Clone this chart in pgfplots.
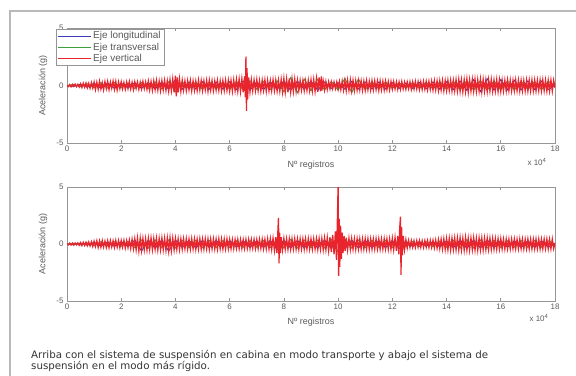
\documentclass[border=0pt]{standalone}
\usepackage{pgfplots}
\usepackage{pgfplotstable}
\pgfplotsset{compat=1.18}
\usepackage{fontspec}
\setmainfont{Liberation Sans}
\newfontfamily\capfont{DejaVu Sans}
\definecolor{mred}{RGB}{234,36,44}
\definecolor{mgreen}{RGB}{60,160,60}
\definecolor{mblue}{RGB}{60,60,180}
\definecolor{axgray}{RGB}{150,150,150}
\definecolor{txtgray}{RGB}{90,90,90}
\pgfplotstableread{
x y
0 0.02
0.05 -0.1
0.1 0.08
0.15 -0.12
0.2 0.1
0.25 -0.08
0.3 0.12
0.35 -0.11
0.4 0.1
0.45 -0.13
0.5 0.15
0.55 -0.18
0.6 0.2
0.65 -0.15
0.7 0.22
0.75 -0.2
0.8 0.18
0.85 -0.24
0.9 0.25
0.95 -0.22
1.0 0.3
1.05 -0.35
1.1 0.28
1.15 -0.32
1.2 0.36
1.25 -0.3
1.3 0.25
1.35 -0.38
1.4 0.33
1.45 -0.28
1.5 0.35
1.55 -0.36
1.6 0.3
1.65 -0.25
1.7 0.38
1.75 -0.33
1.8 0.35
1.85 -0.4
1.9 0.3
1.95 -0.28
2.0 0.32
2.05 -0.3
2.1 0.26
2.15 -0.33
2.2 0.3
2.25 -0.27
2.3 0.34
2.35 -0.3
2.4 0.28
2.45 -0.35
2.5 0.32
2.55 -0.26
2.6 0.3
2.65 -0.33
2.7 0.28
2.75 -0.3
2.8 0.35
2.85 -0.28
2.9 0.3
2.95 -0.34
3.0 0.38
3.05 -0.4
3.1 0.35
3.15 -0.42
3.2 0.4
3.25 -0.36
3.3 0.44
3.35 -0.4
3.4 0.38
3.45 -0.45
3.5 0.42
3.55 -0.38
3.6 0.45
3.65 -0.42
3.7 0.4
3.75 -0.48
3.8 0.5
3.85 -0.45
3.9 0.55
3.95 -0.6
4.0 0.85
4.03 -0.95
4.07 0.7
4.1 -0.6
4.15 0.55
4.2 -0.5
4.25 0.45
4.3 -0.42
4.35 0.4
4.4 -0.45
4.45 0.42
4.5 -0.38
4.55 0.44
4.6 -0.46
4.65 0.4
4.7 -0.42
4.75 0.38
4.8 -0.44
4.85 0.46
4.9 -0.4
4.95 0.42
5.0 -0.45
5.05 0.4
5.1 -0.38
5.15 0.44
5.2 -0.5
5.25 0.45
5.3 -0.4
5.35 0.42
5.4 -0.45
5.45 0.38
5.5 -0.4
5.55 0.44
5.6 -0.42
5.65 0.4
5.7 -0.46
5.75 0.42
5.8 -0.44
5.85 0.46
5.9 -0.42
5.95 0.45
6.0 -0.48
6.05 0.44
6.1 -0.5
6.15 0.48
6.2 -0.45
6.25 0.52
6.3 -0.5
6.35 0.55
6.4 -0.52
6.45 0.58
6.5 -0.6
6.55 0.8
6.58 -1.0
6.6 2.5
6.62 -2.2
6.64 1.5
6.66 -1.2
6.7 0.7
6.75 -0.55
6.8 0.5
6.85 -0.46
6.9 0.48
6.95 -0.44
7.0 0.5
7.05 -0.45
7.1 0.42
7.15 -0.48
7.2 0.45
7.25 -0.42
7.3 0.48
7.35 -0.5
7.4 0.44
7.45 -0.46
7.5 0.42
7.55 -0.45
7.6 0.5
7.65 -0.44
7.7 0.46
7.75 -0.48
7.8 0.45
7.85 -0.5
7.9 0.52
7.95 -0.55
8.0 0.6
8.05 -0.58
8.1 0.55
8.15 -0.6
8.2 0.62
8.25 -0.55
8.3 0.58
8.35 -0.52
8.4 0.55
8.45 -0.5
8.5 0.46
8.55 -0.42
8.6 0.44
8.65 -0.4
8.7 0.42
8.75 -0.45
8.8 0.4
8.85 -0.42
8.9 0.45
8.95 -0.44
9.0 0.5
9.05 -0.48
9.1 0.52
9.15 -0.5
9.2 0.6
9.25 -0.55
9.3 0.7
9.35 -0.5
9.38 0.78
9.4 -0.45
9.45 0.4
9.5 -0.38
9.55 0.35
9.6 -0.34
9.65 0.32
9.7 -0.3
9.75 0.3
9.8 -0.28
9.85 0.3
9.9 -0.27
9.95 0.3
10.0 -0.32
10.05 0.34
10.1 -0.36
10.15 0.38
10.2 -0.4
10.25 0.42
10.3 -0.45
10.35 0.46
10.4 -0.42
10.45 0.48
10.5 -0.46
10.55 0.45
10.6 -0.44
10.65 0.42
10.7 -0.4
10.75 0.42
10.8 -0.38
10.85 0.4
10.9 -0.42
10.95 0.38
11.0 -0.4
11.05 0.42
11.1 -0.38
11.15 0.36
11.2 -0.4
11.25 0.42
11.3 -0.38
11.35 0.4
11.4 -0.36
11.45 0.38
11.5 -0.42
11.55 0.4
11.6 -0.38
11.65 0.36
11.7 -0.4
11.75 0.38
11.8 -0.36
11.85 0.34
11.9 -0.38
11.95 0.35
12.0 -0.32
12.05 0.34
12.1 -0.3
12.15 0.32
12.2 -0.33
12.25 0.3
12.3 -0.32
12.35 0.34
12.4 -0.3
12.45 0.28
12.5 -0.32
12.55 0.3
12.6 -0.28
12.65 0.32
12.7 -0.34
12.75 0.3
12.8 -0.32
12.85 0.35
12.9 -0.3
12.95 0.33
13.0 -0.35
13.05 0.32
13.1 -0.34
13.15 0.36
13.2 -0.33
13.25 0.35
13.3 -0.38
13.35 0.36
13.4 -0.34
13.45 0.38
13.5 -0.4
13.55 0.42
13.6 -0.38
13.65 0.4
13.7 -0.44
13.75 0.42
13.8 -0.4
13.85 0.44
13.9 -0.46
13.95 0.42
14.0 -0.44
14.05 0.46
14.1 -0.42
14.15 0.45
14.2 -0.48
14.25 0.44
14.3 -0.46
14.35 0.5
14.4 -0.48
14.45 0.52
14.5 -0.5
14.55 0.48
14.6 -0.55
14.65 0.5
14.7 -0.52
14.75 0.56
14.8 -0.58
14.85 0.5
14.9 -0.48
14.95 0.52
15.0 -0.5
15.05 0.55
15.1 -0.52
15.15 0.5
15.2 -0.48
15.25 0.54
15.3 -0.56
15.35 0.52
15.4 -0.5
15.45 0.48
15.5 -0.52
15.55 0.5
15.6 -0.48
15.65 0.52
15.7 -0.5
15.75 0.46
15.8 -0.48
15.85 0.5
15.9 -0.52
15.95 0.48
16.0 -0.5
16.05 0.46
16.1 -0.48
16.15 0.45
16.2 -0.47
16.25 0.48
16.3 -0.45
16.35 0.46
16.4 -0.48
16.45 0.44
16.5 -0.46
16.55 0.48
16.6 -0.45
16.65 0.46
16.7 -0.48
16.75 0.45
16.8 -0.46
16.85 0.44
16.9 -0.47
16.95 0.46
17.0 -0.48
17.05 0.45
17.1 -0.46
17.15 0.48
17.2 -0.45
17.25 0.46
17.3 -0.48
17.35 0.46
17.4 -0.44
17.45 0.47
17.5 -0.46
17.55 0.48
17.6 -0.45
17.65 0.46
17.7 -0.48
17.75 0.45
17.8 -0.47
17.85 0.46
17.9 -0.48
17.95 0.45
18.0 -0.2
}\topred
\pgfplotstableread{
x y
0 0.02
0.05 -0.08
0.1 0.07
0.15 -0.09
0.2 0.08
0.25 -0.1
0.3 0.09
0.35 -0.08
0.4 0.1
0.45 -0.11
0.5 0.12
0.55 -0.14
0.6 0.15
0.65 -0.13
0.7 0.16
0.75 -0.15
0.8 0.18
0.85 -0.17
0.9 0.2
0.95 -0.22
1.0 0.25
1.05 -0.22
1.1 0.28
1.15 -0.3
1.2 0.26
1.25 -0.28
1.3 0.3
1.35 -0.27
1.4 0.25
1.45 -0.3
1.5 0.28
1.55 -0.32
1.6 0.3
1.65 -0.26
1.7 0.28
1.75 -0.3
1.8 0.32
1.85 -0.28
1.9 0.3
1.95 -0.33
2.0 0.3
2.05 -0.28
2.1 0.32
2.15 -0.35
2.2 0.3
2.25 -0.32
2.3 0.35
2.35 -0.38
2.4 0.4
2.45 -0.42
2.5 0.45
2.55 -0.5
2.6 0.52
2.65 -0.6
2.7 0.5
2.75 -0.55
2.8 0.48
2.85 -0.5
2.9 0.46
2.95 -0.52
3.0 0.5
3.05 -0.48
3.1 0.52
3.15 -0.5
3.2 0.48
3.25 -0.46
3.3 0.5
3.35 -0.52
3.4 0.48
3.45 -0.5
3.5 0.52
3.55 -0.48
3.6 0.5
3.65 -0.55
3.7 0.52
3.75 -0.6
3.8 0.55
3.85 -0.58
3.9 0.5
3.95 -0.52
4.0 0.48
4.05 -0.46
4.1 0.45
4.15 -0.48
4.2 0.44
4.25 -0.46
4.3 0.45
4.35 -0.42
4.4 0.46
4.45 -0.44
4.5 0.42
4.55 -0.45
4.6 0.46
4.65 -0.43
4.7 0.44
4.75 -0.46
4.8 0.42
4.85 -0.44
4.9 0.46
4.95 -0.45
5.0 0.43
5.05 -0.44
5.1 0.45
5.15 -0.42
5.2 0.44
5.25 -0.46
5.3 0.43
5.35 -0.42
5.4 0.44
5.45 -0.43
5.5 0.42
5.55 -0.44
5.6 0.45
5.65 -0.42
5.7 0.43
5.75 -0.44
5.8 0.42
5.85 -0.43
5.9 0.44
5.95 -0.42
6.0 0.4
6.05 -0.42
6.1 0.38
6.15 -0.4
6.2 0.39
6.25 -0.38
6.3 0.4
6.35 -0.41
6.4 0.38
6.45 -0.4
6.5 0.37
6.55 -0.39
6.6 0.4
6.65 -0.38
6.7 0.39
6.75 -0.4
6.8 0.38
6.85 -0.37
6.9 0.4
6.95 -0.39
7.0 0.38
7.05 -0.4
7.1 0.41
7.15 -0.38
7.2 0.4
7.25 -0.42
7.3 0.4
7.35 -0.43
7.4 0.45
7.45 -0.44
7.5 0.46
7.55 -0.48
7.6 0.5
7.65 -0.55
7.7 0.6
7.74 -0.8
7.78 1.2
7.8 2.3
7.82 -1.7
7.84 1.0
7.87 -0.8
7.9 0.6
7.95 -0.5
8.0 0.48
8.05 -0.46
8.1 0.45
8.15 -0.47
8.2 0.44
8.25 -0.46
8.3 0.45
8.35 -0.44
8.4 0.46
8.45 -0.45
8.5 0.44
8.55 -0.46
8.6 0.45
8.65 -0.43
8.7 0.44
8.75 -0.46
8.8 0.45
8.85 -0.44
8.9 0.46
8.95 -0.45
9.0 0.44
9.05 -0.46
9.1 0.45
9.15 -0.44
9.2 0.46
9.25 -0.48
9.3 0.47
9.35 -0.46
9.4 0.48
9.45 -0.5
9.5 0.52
9.55 -0.5
9.6 0.55
9.65 -0.58
9.7 0.6
9.75 -0.7
9.8 0.8
9.85 -0.9
9.9 1.1
9.94 -1.4
9.97 1.8
10.0 5.1
10.02 -2.8
10.04 2.2
10.06 -2.0
10.09 1.6
10.12 -1.3
10.15 1.0
10.18 -0.8
10.22 0.7
10.26 -0.6
10.3 0.55
10.35 -0.52
10.4 0.5
10.45 -0.48
10.5 0.47
10.55 -0.46
10.6 0.45
10.65 -0.47
10.7 0.46
10.75 -0.44
10.8 0.45
10.85 -0.46
10.9 0.44
10.95 -0.45
11.0 0.46
11.05 -0.44
11.1 0.45
11.15 -0.46
11.2 0.44
11.25 -0.45
11.3 0.43
11.35 -0.44
11.4 0.45
11.45 -0.43
11.5 0.44
11.55 -0.45
11.6 0.43
11.65 -0.44
11.7 0.45
11.75 -0.43
11.8 0.44
11.85 -0.46
11.9 0.45
11.95 -0.47
12.0 0.48
12.05 -0.5
12.1 0.55
12.15 -0.6
12.2 0.7
12.24 -0.9
12.27 1.3
12.3 2.4
12.32 -2.7
12.34 1.5
12.37 -1.0
12.4 0.7
12.45 -0.5
12.5 0.38
12.55 -0.34
12.6 0.32
12.65 -0.3
12.7 0.3
12.75 -0.29
12.8 0.28
12.85 -0.3
12.9 0.29
12.95 -0.28
13.0 0.3
13.05 -0.29
13.1 0.28
13.15 -0.3
13.2 0.29
13.25 -0.28
13.3 0.3
13.35 -0.31
13.4 0.32
13.45 -0.3
13.5 0.33
13.55 -0.34
13.6 0.35
13.65 -0.36
13.7 0.38
13.75 -0.4
13.8 0.42
13.85 -0.44
13.9 0.45
13.95 -0.47
14.0 0.48
14.05 -0.5
14.1 0.49
14.15 -0.52
14.2 0.5
14.25 -0.48
14.3 0.52
14.35 -0.5
14.4 0.53
14.45 -0.51
14.5 0.55
14.55 -0.52
14.6 0.5
14.65 -0.54
14.7 0.56
14.75 -0.52
14.8 0.5
14.85 -0.53
14.9 0.52
14.95 -0.5
15.0 0.54
15.05 -0.52
15.1 0.5
15.15 -0.53
15.2 0.52
15.25 -0.5
15.3 0.51
15.35 -0.52
15.4 0.5
15.45 -0.49
15.5 0.5
15.55 -0.48
15.6 0.49
15.65 -0.47
15.7 0.48
15.75 -0.46
15.8 0.47
15.85 -0.45
15.9 0.46
15.95 -0.44
16.0 0.45
16.05 -0.43
16.1 0.42
16.15 -0.44
16.2 0.43
16.25 -0.42
16.3 0.41
16.35 -0.43
16.4 0.42
16.45 -0.41
16.5 0.43
16.55 -0.42
16.6 0.41
16.65 -0.42
16.7 0.43
16.75 -0.41
16.8 0.42
16.85 -0.43
16.9 0.41
16.95 -0.42
17.0 0.43
17.05 -0.41
17.1 0.42
17.15 -0.43
17.2 0.41
17.25 -0.42
17.3 0.43
17.35 -0.41
17.4 0.42
17.45 -0.43
17.5 0.41
17.55 -0.42
17.6 0.43
17.65 -0.41
17.7 0.42
17.75 -0.43
17.8 0.41
17.85 -0.42
17.9 0.43
17.95 -0.41
18.0 0.1
}\botred
\begin{document}
\begin{tikzpicture}
\path[use as bounding box] (0bp,0bp) rectangle (576bp,376bp);
\draw[gray!55, line width=1.2bp] (10bp,0bp) -- (10bp,365bp) -- (576bp,365bp);
\pgfplotsset{myax/.style={
  scale only axis, width=488bp, height=115bp,
  xmin=0, xmax=18, ymin=-5, ymax=5,
  xtick={0,2,...,18}, ytick={-5,0,5},
  tick align=inside, axis line style={axgray, line width=0.9bp},
  tick style={axgray, line width=0.7bp}, major tick length=3bp,
  ticklabel style={font=\fontsize{8}{9}\selectfont, text=txtgray},
  /pgf/number format/assume math mode=true,
  xlabel={Nº registros}, ylabel={Aceleración (g)},
  label style={font=\fontsize{9}{10}\selectfont, text=txtgray},
  xlabel style={at={(axis description cs:0.5,-0.19)}, anchor=center},
  ylabel style={at={(axis description cs:-0.049,0.5)}, anchor=center},
  xticklabel style={yshift=0.5bp},
  clip=true,
}}
% ---------- top panel ----------
\begin{axis}[myax, name=top, anchor=south west, at={(67bp,233bp)},
  legend style={at={(rel axis cs:-0.022,0.995)}, anchor=north west, draw=axgray,
    font=\fontsize{10}{10}\selectfont, text=txtgray, inner sep=1bp, row sep=-1.6bp,
    cells={anchor=west}},
  legend image code/.code={\draw[#1, line width=0.7bp] (5bp,0bp) -- (38bp,0bp);}]
\addplot[mblue, line width=1bp] coordinates {(0,0) (0.25,-0.08) (0.5,0.1) (0.75,-0.15) (1,0.2) (1.25,-0.25) (1.5,0.22) (1.75,-0.25) (2,0.2) (2.25,-0.22) (2.5,0.25) (2.75,-0.25) (3,0.25) (3.25,-0.3) (3.5,0.3) (3.75,-0.32) (4,0.5) (4.25,-0.32) (4.5,0.3) (4.75,-0.3) (5,0.32) (5.25,-0.32) (5.5,0.3) (5.75,-0.3) (6,0.32) (6.25,-0.35) (6.5,0.38) (6.75,-0.4) (7,0.32) (7.25,-0.35) (7.5,0.32) (7.75,-0.35) (8,0.4) (8.25,-0.42) (8.5,0.38) (8.75,-0.32) (9,0.38) (9.25,-0.42) (9.5,0.3) (9.75,-0.25) (10,0.25) (10.25,-0.32) (10.5,0.35) (10.75,-0.3) (11,0.3) (11.25,-0.3) (11.5,0.3) (11.75,-0.3) (12,0.25) (12.25,-0.25) (12.5,0.22) (12.75,-0.25) (13,0.25) (13.25,-0.28) (13.5,0.3) (13.75,-0.32) (14,0.32) (14.25,-0.35) (14.5,0.38) (14.75,-0.42) (15,0.5) (15.25,-0.52) (15.5,0.58) (15.75,-0.4) (16,0.52) (16.25,-0.38) (16.5,0.45) (16.75,-0.38) (17,0.4) (17.25,-0.35) (17.5,0.38) (17.75,-0.35) (18,0)};
\addlegendentry{Eje longitudinal}
\addplot[mgreen, line width=1bp] coordinates {(0,0) (0.25,0.08) (0.5,-0.1) (0.75,0.15) (1,-0.2) (1.25,0.25) (1.5,-0.22) (1.75,0.25) (2,-0.2) (2.25,0.22) (2.5,-0.25) (2.75,0.25) (3,-0.25) (3.25,0.3) (3.5,-0.3) (3.75,0.32) (4,-0.5) (4.25,0.32) (4.5,-0.3) (4.75,0.3) (5,-0.32) (5.25,0.32) (5.5,-0.3) (5.75,0.3) (6,-0.32) (6.25,0.35) (6.5,-0.38) (6.75,0.4) (7,-0.32) (7.25,0.35) (7.5,-0.35) (7.75,0.4) (8,-0.55) (8.25,0.68) (8.5,-0.62) (8.75,0.55) (9,-0.45) (9.25,0.55) (9.5,-0.4) (9.75,0.35) (10,-0.4) (10.25,0.62) (10.5,-0.62) (10.75,0.55) (11,-0.35) (11.25,0.32) (11.5,-0.3) (11.75,0.3) (12,-0.25) (12.25,0.25) (12.5,-0.22) (12.75,0.25) (13,-0.25) (13.25,0.28) (13.5,-0.3) (13.75,0.32) (14,-0.32) (14.25,0.35) (14.5,-0.38) (14.75,0.42) (15,-0.4) (15.25,0.42) (15.5,-0.4) (15.75,0.4) (16,-0.38) (16.25,0.38) (16.5,-0.38) (16.75,0.38) (17,-0.35) (17.25,0.35) (17.5,-0.35) (17.75,0.35) (18,0)};
\addlegendentry{Eje transversal}
\addplot[mred, line width=1.3bp] table[x=x, y=y] {\topred};
\addlegendentry{Eje vertical}
\end{axis}
\node[font=\fontsize{8}{9}\selectfont, text=txtgray] at ([xshift=-18bp,yshift=-19bp]top.south east) {x 10\textsuperscript{4}};
% ---------- bottom panel ----------
\begin{axis}[myax, name=bot, anchor=south west, at={(67bp,75bp)}, height=114bp]
\addplot[mblue, line width=1bp] coordinates {(0,0) (0.25,-0.06) (0.5,0.08) (0.75,-0.1) (1,0.15) (1.25,-0.2) (1.5,0.18) (1.75,-0.2) (2,0.2) (2.25,-0.22) (2.5,0.35) (2.75,-0.62) (3,0.35) (3.25,-0.38) (3.5,0.35) (3.75,-0.62) (4,0.35) (4.25,-0.32) (4.5,0.32) (4.75,-0.35) (5,0.32) (5.25,-0.3) (5.5,0.32) (5.75,-0.28) (6,0.3) (6.25,-0.28) (6.5,0.28) (6.75,-0.3) (7,0.28) (7.25,-0.3) (7.5,0.32) (7.75,-0.5) (8,0.35) (8.25,-0.35) (8.5,0.32) (8.75,-0.35) (9,0.32) (9.25,-0.35) (9.5,0.35) (9.75,-0.4) (10,0.7) (10.25,-0.4) (10.5,0.35) (10.75,-0.35) (11,0.32) (11.25,-0.32) (11.5,0.3) (11.75,-0.32) (12,0.32) (12.25,-0.4) (12.5,0.25) (12.75,-0.22) (13,0.22) (13.25,-0.2) (13.5,0.22) (13.75,-0.25) (14,0.28) (14.25,-0.32) (14.5,0.35) (14.75,-0.38) (15,0.35) (15.25,-0.35) (15.5,0.35) (15.75,-0.32) (16,0.3) (16.25,-0.28) (16.5,0.28) (16.75,-0.3) (17,0.28) (17.25,-0.3) (17.5,0.28) (17.75,-0.28) (18,0)};
\addplot[mgreen, line width=1bp] coordinates {(0,0) (0.25,0.06) (0.5,-0.08) (0.75,0.1) (1,-0.15) (1.25,0.2) (1.5,-0.18) (1.75,0.2) (2,-0.2) (2.25,0.22) (2.5,-0.32) (2.75,0.35) (3,-0.35) (3.25,0.35) (3.5,-0.32) (3.75,0.35) (4,-0.35) (4.25,0.32) (4.5,-0.32) (4.75,0.32) (5,-0.32) (5.25,0.3) (5.5,-0.32) (5.75,0.28) (6,-0.3) (6.25,0.28) (6.5,-0.28) (6.75,0.3) (7,-0.28) (7.25,0.3) (7.5,-0.32) (7.75,0.4) (8,-0.35) (8.25,0.4) (8.5,-0.35) (8.75,0.35) (9,-0.32) (9.25,0.35) (9.5,-0.35) (9.75,0.4) (10,-0.7) (10.25,0.4) (10.5,-0.35) (10.75,0.35) (11,-0.32) (11.25,0.32) (11.5,-0.3) (11.75,0.32) (12,-0.32) (12.25,0.4) (12.5,-0.25) (12.75,0.22) (13,-0.22) (13.25,0.2) (13.5,-0.22) (13.75,0.25) (14,-0.28) (14.25,0.32) (14.5,-0.35) (14.75,0.38) (15,-0.35) (15.25,0.35) (15.5,-0.35) (15.75,0.32) (16,-0.3) (16.25,0.28) (16.5,-0.28) (16.75,0.3) (17,-0.28) (17.25,0.3) (17.5,-0.28) (17.75,0.28) (18,0)};
\addplot[mred, line width=1.3bp] table[x=x, y=y] {\botred};
\end{axis}
\node[font=\fontsize{8}{9}\selectfont, text=txtgray] at ([xshift=-16bp,yshift=-17bp]bot.south east) {x 10\textsuperscript{4}};
\node[anchor=base west, font=\capfont\fontsize{10.3}{11}\selectfont, text=black!80, inner sep=0pt] at (31bp,18bp) {Arriba con el sistema de suspensión en cabina en modo transporte y abajo el sistema de};
\node[anchor=base west, font=\capfont\fontsize{10.3}{11}\selectfont, text=black!80, inner sep=0pt] at (31bp,7bp) {suspensión en el modo más rígido.};
\end{tikzpicture}
\end{document}
